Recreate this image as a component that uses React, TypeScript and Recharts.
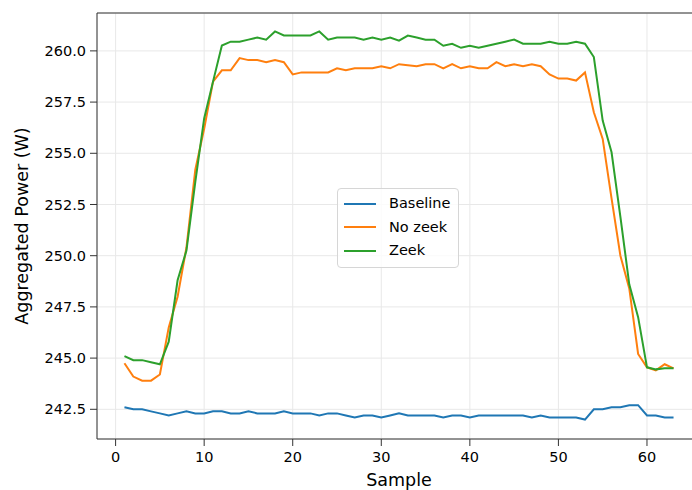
import React from "react";
import {
  LineChart,
  Line,
  XAxis,
  YAxis,
  CartesianGrid,
  Legend,
  Label,
  ReferenceLine,
} from "recharts";

// samples 1..63
const samples = Array.from({ length: 63 }, (_, i) => i + 1);

const baseline = [
  242.6, 242.5, 242.5, 242.4, 242.3, 242.2, 242.3, 242.4, 242.3, 242.3,
  242.4, 242.4, 242.3, 242.3, 242.4, 242.3, 242.3, 242.3, 242.4, 242.3,
  242.3, 242.3, 242.2, 242.3, 242.3, 242.2, 242.1, 242.2, 242.2, 242.1,
  242.2, 242.3, 242.2, 242.2, 242.2, 242.2, 242.1, 242.2, 242.2, 242.1,
  242.2, 242.2, 242.2, 242.2, 242.2, 242.2, 242.1, 242.2, 242.1, 242.1,
  242.1, 242.1, 242.0, 242.5, 242.5, 242.6, 242.6, 242.7, 242.7, 242.2,
  242.2, 242.1, 242.1,
];

const noZeek = [
  244.75, 244.1, 243.9, 243.9, 244.2, 246.5, 248.0, 250.4, 254.2, 256.2,
  258.5, 259.05, 259.05, 259.65, 259.55, 259.55, 259.45, 259.55, 259.45, 258.85,
  258.95, 258.95, 258.95, 258.95, 259.15, 259.05, 259.15, 259.15, 259.15, 259.25,
  259.15, 259.35, 259.3, 259.25, 259.35, 259.35, 259.15, 259.35, 259.15, 259.25,
  259.15, 259.15, 259.45, 259.25, 259.35, 259.25, 259.35, 259.25, 258.85, 258.65,
  258.65, 258.55, 258.95, 257.0, 255.7, 252.8, 250.0, 248.4, 245.2, 244.55,
  244.4, 244.7, 244.5,
];

const zeek = [
  245.1, 244.9, 244.9, 244.8, 244.7, 245.8, 248.8, 250.25, 253.6, 256.7,
  258.5, 260.26, 260.45, 260.45, 260.55, 260.65, 260.55, 260.95, 260.75, 260.75,
  260.75, 260.75, 260.95, 260.55, 260.65, 260.65, 260.65, 260.55, 260.65, 260.55,
  260.65, 260.5, 260.75, 260.65, 260.55, 260.55, 260.25, 260.35, 260.15, 260.25,
  260.15, 260.25, 260.35, 260.45, 260.55, 260.35, 260.35, 260.35, 260.45, 260.35,
  260.35, 260.45, 260.35, 259.7, 256.6, 255.05, 251.9, 248.6, 247.0, 244.55,
  244.45, 244.5, 244.5,
];

const xTicks = [0, 10, 20, 30, 40, 50, 60];
const yTicks = [242.5, 245.0, 247.5, 250.0, 252.5, 255.0, 257.5, 260.0];

const seriesNames = ["Baseline", "No zeek", "Zeek"];
const seriesColors = ["#1f77b4", "#ff7f0e", "#2ca02c"];

const data = samples.map((s, i) => ({
  sample: s,
  Baseline: baseline[i],
  "No zeek": noZeek[i],
  Zeek: zeek[i],
}));

const FONT = "'DejaVu Sans', sans-serif";

function LegendBox() {
  return (
    <div
      style={{
        border: "1px solid #d6d6d6",
        borderRadius: 4,
        background: "rgba(255,255,255,0.8)",
        padding: "3px 8px 4px 6px",
        fontFamily: FONT,
        fontSize: 14.5,
        color: "#000",
        lineHeight: "23.5px",
      }}
    >
      {seriesNames.map((name, i) => (
        <div key={name} style={{ display: "flex", alignItems: "center" }}>
          <span
            style={{
              display: "inline-block",
              width: 32,
              height: 2,
              background: seriesColors[i],
              marginRight: 13,
            }}
          />
          <span>{name}</span>
        </div>
      ))}
    </div>
  );
}

export default function App() {
  return (
    <div
      style={{
        position: "absolute",
        left: 0,
        top: 0,
        width: 692,
        height: 490,
        overflow: "hidden",
        background: "#fff",
      }}
    >
      <LineChart
        width={720}
        height={490}
        data={data}
        margin={{ top: 13, right: 19, bottom: 0, left: 0 }}
      >
        <CartesianGrid stroke="#e8e8e8" strokeWidth={1} />
        <XAxis
          dataKey="sample"
          type="number"
          domain={[-2.1, 66.1]}
          ticks={xTicks}
          allowDataOverflow
          height={51}
          tickSize={7}
          tickMargin={6}
          stroke="#333"
          tick={{ fontSize: 14.5, fill: "#000", fontFamily: FONT }}
        >
          <Label
            value="Sample"
            position="insideBottom"
            offset={4}
            style={{ fontSize: 17.5, fill: "#000", fontFamily: FONT }}
          />
        </XAxis>
        <YAxis
          domain={[241.05, 261.85]}
          ticks={yTicks}
          allowDataOverflow
          width={97}
          tickSize={7}
          tickMargin={4}
          stroke="#333"
          tickFormatter={(v: number) => v.toFixed(1)}
          tick={{ fontSize: 14.5, fill: "#000", fontFamily: FONT }}
        >
          <Label
            content={(props: any) => {
              const vb = props.viewBox || { x: 0, y: 13, height: 426 };
              const cx = vb.x + 28;
              const cy = vb.y + vb.height / 2;
              return (
                <text
                  x={cx}
                  y={cy}
                  transform={`rotate(-90 ${cx} ${cy})`}
                  textAnchor="middle"
                  fontSize={17.5}
                  fontFamily={FONT}
                  fill="#000"
                >
                  Aggregated Power (W)
                </text>
              );
            }}
          />
        </YAxis>
        <ReferenceLine y={261.85} stroke="#333" strokeWidth={1} />
        <Legend
          layout="vertical"
          align="center"
          verticalAlign="middle"
          wrapperStyle={{ left: 337, top: 188, width: "auto" }}
          content={() => <LegendBox />}
        />
        {seriesNames.map((name, i) => (
          <Line
            key={name}
            type="linear"
            dataKey={name}
            stroke={seriesColors[i]}
            strokeWidth={2}
            dot={false}
            isAnimationActive={false}
          />
        ))}
      </LineChart>
    </div>
  );
}
